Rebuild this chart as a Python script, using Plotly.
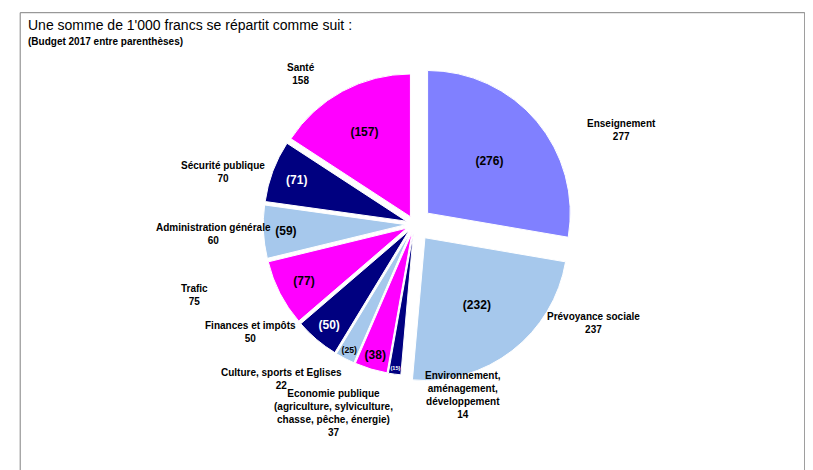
import plotly.graph_objects as go

labels = ["Enseignement", "Prévoyance sociale", "Environnement, aménagement, développement",
          "Economie publique", "Culture, sports et Eglises", "Finances et impôts", "Trafic",
          "Administration générale", "Sécurité publique", "Santé"]
label_text = ["Enseignement<br>277", "Prévoyance sociale<br>237",
              "Environnement,<br>aménagement,<br>développement<br>14",
              "Economie publique<br>(agriculture, sylviculture,<br>chasse, pêche, énergie)<br>37",
              "Culture, sports et Eglises<br>22", "Finances et impôts<br>50", "Trafic<br>75",
              "Administration générale<br>60", "Sécurité publique<br>70", "Santé<br>158"]
values_2018 = [277, 237, 14, 37, 22, 50, 75, 60, 70, 158]
values_2017 = [276, 232, 15, 38, 25, 50, 77, 59, 71, 157]
colors = ["#8080ff", "#a6c8ec", "#000080", "#ff00ff", "#a6c8ec", "#000080", "#ff00ff",
          "#a6c8ec", "#000080", "#ff00ff"]
label_pos = [(0.80, 0.77), (0.78, 0.30), (0.56, 0.12), (0.40, 0.08), (0.26, 0.18),
             (0.24, 0.28), (0.21, 0.39), (0.18, 0.52), (0.21, 0.68), (0.36, 0.89)]

txtcol = ["white" if c == "#000080" else "black" for c in colors]

fig = go.Figure(go.Pie(
    labels=labels, values=values_2018, sort=False, direction="clockwise", rotation=0,
    text=[f"<b>({v})</b>" for v in values_2017], textinfo="text", textposition="inside",
    insidetextorientation="horizontal",
    insidetextfont=dict(color=txtcol, size=12, family="Liberation Sans"),
    marker=dict(colors=colors, line=dict(color="white", width=1)),
    pull=[0.12, 0.12, 0.06, 0.06, 0.06, 0.06, 0.06, 0.06, 0.06, 0.06],
    domain=dict(x=[0.2, 0.8], y=[0.2, 0.88]), showlegend=False, hoverinfo="label+value",
))

for (x, y), t in zip(label_pos, label_text):
    fig.add_annotation(x=x, y=y, xref="paper", yref="paper", text=f"<b>{t}</b>",
                       showarrow=False, font=dict(size=10, color="black"), align="center")

fig.add_annotation(x=0.022, y=0.985, xref="paper", yref="paper", xanchor="left", yanchor="top",
                   text="Une somme de 1'000 francs se répartit comme suit :", showarrow=False,
                   font=dict(size=14, color="black"))
fig.add_annotation(x=0.022, y=0.945, xref="paper", yref="paper", xanchor="left", yanchor="top",
                   text="<b>(Budget 2017 entre parenthèses)</b>", showarrow=False,
                   font=dict(size=10, color="black"))
fig.add_shape(type="rect", xref="paper", yref="paper", x0=0.015, y0=0.01, x1=0.98, y1=0.99,
              line=dict(color="#808080", width=1))

fig.update_layout(width=813, height=470, margin=dict(l=0, r=0, t=0, b=0),
                  paper_bgcolor="white", font=dict(family="Liberation Sans"))
fig.write_html("out.html")
